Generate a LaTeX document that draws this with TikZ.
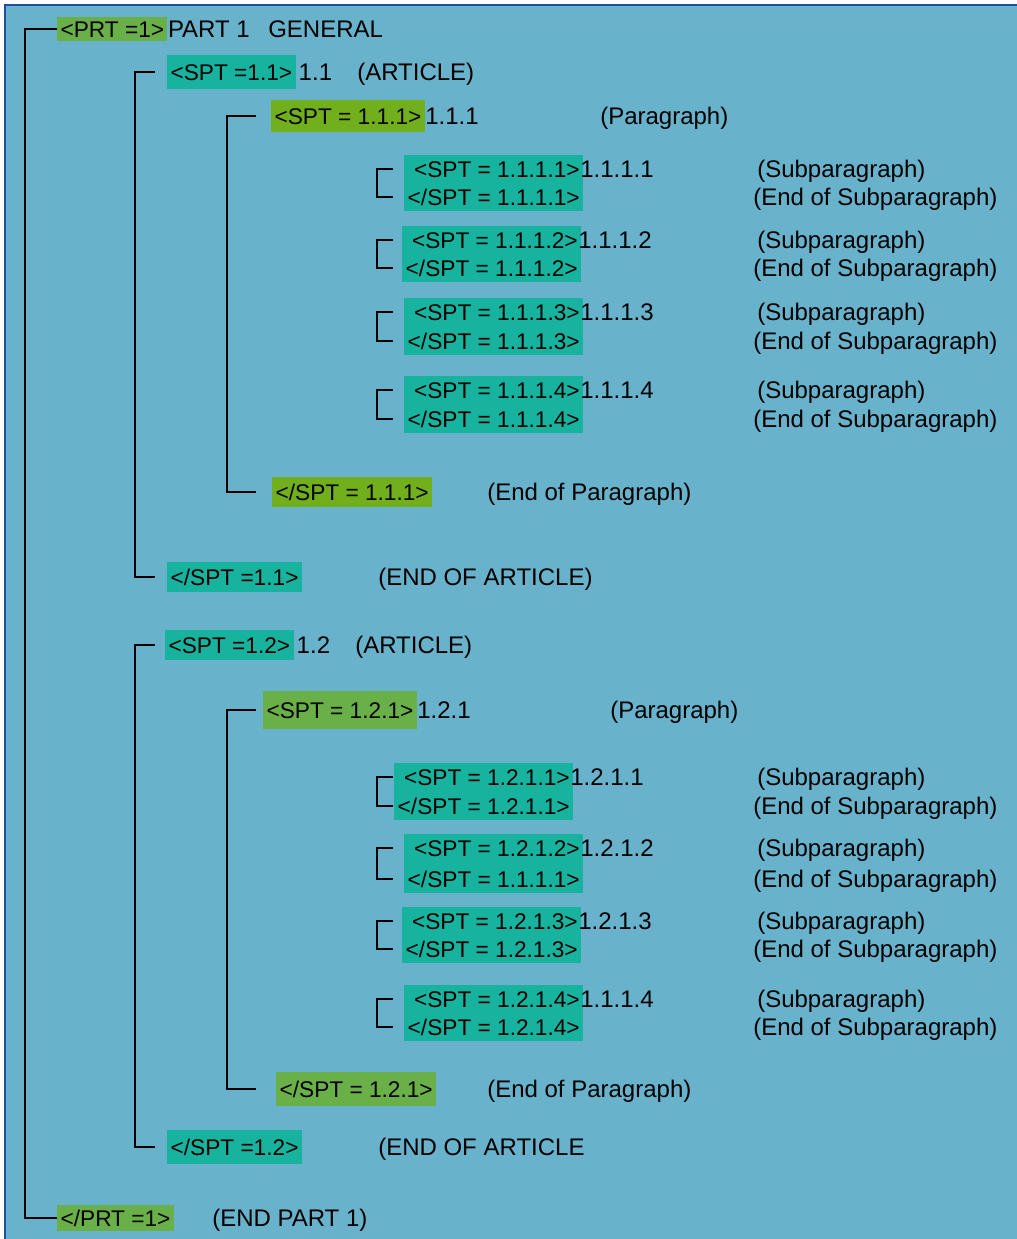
\documentclass[tikz,border=0pt]{standalone}
\usepackage{fontspec}
\setmainfont{Liberation Sans}
\definecolor{sky}{HTML}{68B2CB}
\definecolor{frame}{HTML}{1F4E9A}
\definecolor{tealtag}{HTML}{17B39E}
\definecolor{greentag}{HTML}{6AB048}
\definecolor{limetag}{HTML}{71AF1C}
\usetikzlibrary{calc, positioning, fit, backgrounds}

\begin{document}
\begin{tikzpicture}[
  x=0.75pt, y=-0.75pt,
  tag/.style={fill=#1, font=\fontsize{17}{20}\selectfont, text height=14pt, text depth=2pt, inner xsep=2.5pt, inner ysep=3pt, anchor=base west},
  tagline/.style={font=\fontsize{17}{20}\selectfont, text height=14pt, text depth=2pt, inner sep=0pt, anchor=base east},
  txt/.style={font=\fontsize{18}{21}\selectfont, inner sep=0pt, anchor=base west},
  subbox/.style={fill=tealtag, inner xsep=2.5pt, inner ysep=2.25pt},
  bracket/.style={line width=1.5pt},
]
% Background
\begin{scope}[on background layer]
  \fill[white] (0,0) rectangle (1017,1239);
  \fill[sky] (5,5) rectangle (1017,1239);
\end{scope}
\useasboundingbox (0,0) rectangle (1017,1239);
\draw[frame, line width=2pt] (5,1239) -- (5,5) -- (1017,5);

% Bracket columns
\coordinate (v0) at (25,0);
\coordinate (v1) at (135,0);
\coordinate (t1) at (155,0);
\coordinate (v2) at (227,0);
\coordinate (t2) at (256,0);
\coordinate (v3) at (377,0);
\coordinate (t3) at (393,0);

% Part 1
\node[tag=greentag, inner ysep=1pt] (p1o) at (57,37) {<PRT =1>};
\node[txt] (p1t) at (p1o.base east) {PART 1};
\node[txt] (p1g) at (268,37) {GENERAL};

% Article 1.1
\node[tag=tealtag, inner ysep=4.5pt] (s11o) at (167,80) {<SPT =1.1>};
\node[txt, xshift=2pt] (s11n) at (s11o.base east) {1.1};
\node[txt] (s11t) at (357,80) {(ARTICLE)};

% Paragraph 1.1.1
\node[tag=limetag, inner ysep=4pt] (s111o) at (271,124) {<SPT = 1.1.1>};
\node[txt] (s111n) at (s111o.base east) {1.1.1};
\node[txt] (s111t) at (600,124) {(Paragraph)};
\node[tag=limetag] (s111c) at (272,500) {</SPT = 1.1.1>};
\node[txt] (s111e) at (487,500) {(End of Paragraph)};

\node[tag=tealtag] (s11c) at (167,585) {</SPT =1.1>};
\node[txt] (s11e) at (378,585) {(END OF ARTICLE)};

% Article 1.2
\node[tag=tealtag] (s12o) at (165,653) {<SPT =1.2>};
\node[txt, xshift=2pt] (s12n) at (s12o.base east) {1.2};
\node[txt] (s12t) at (355,653) {(ARTICLE)};

% Paragraph 1.2.1
\node[tag=greentag, inner ysep=6pt] (s121o) at (263,718) {<SPT = 1.2.1>};
\node[txt] (s121n) at (s121o.base east) {1.2.1};
\node[txt] (s121t) at (610,718) {(Paragraph)};
\node[tag=greentag, inner ysep=5pt] (s121c) at (276,1097) {</SPT = 1.2.1>};
\node[txt] (s121e) at (487,1097) {(End of Paragraph)};

\node[tag=tealtag, inner ysep=4.5pt] (s12c) at (167,1155) {</SPT =1.2>};
\node[txt] (s12e) at (378,1155) {(END OF ARTICLE};

\node[tag=greentag, inner ysep=1.75pt] (p1c) at (57,1226) {</PRT =1>};
\node[txt] (p1e) at (212,1226) {(END PART 1)};

% Subparagraphs
\foreach \id/\ov/\nv/\cv/\r/\ya/\yb in {
  1111/1.1.1.1/1.1.1.1/1.1.1.1/580/169/197,
  1112/1.1.1.2/1.1.1.2/1.1.1.2/578/240/268,
  1113/1.1.1.3/1.1.1.3/1.1.1.3/580/312/341,
  1114/1.1.1.4/1.1.1.4/1.1.1.4/580/390/419,
  1211/1.2.1.1/1.2.1.1/1.2.1.1/570/777/806,
  1212/1.2.1.2/1.2.1.2/1.1.1.1/580/848/879,
  1213/1.2.1.3/1.2.1.3/1.2.1.3/578/921/949,
  1214/1.2.1.4/1.1.1.4/1.2.1.4/580/999/1027}{
  \node[tagline] (o\id) at (\r,\ya+8) {<SPT = \ov>};
  \node[txt] (n\id) at (o\id.base east) {\nv};
  \node[tagline] (c\id) at (\r,\yb+8) {</SPT = \cv>};
  \node[txt] (d\id) at (757,\ya+8) {(Subparagraph)};
  \node[txt] (e\id) at (753,\yb+8) {(End of Subparagraph)};
  \begin{scope}[on background layer]
    \node[subbox, fit=(o\id)(c\id)] (b\id) {};
  \end{scope}
  \draw[bracket] (o\id.west -| t3) -- (o\id.west -| v3) -- (c\id.west -| v3) -- (c\id.west -| t3);
}

% Brackets
\draw[bracket] (p1o.west) -- (p1o.west -| v0) -- (p1c.west -| v0) -- (p1c.west);
\draw[bracket] (s11o.west -| t1) -- (s11o.west -| v1) -- (s11c.west -| v1) -- (s11c.west -| t1);
\draw[bracket] (s12o.west -| t1) -- (s12o.west -| v1) -- (s12c.west -| v1) -- (s12c.west -| t1);
\draw[bracket] (s111o.west -| t2) -- (s111o.west -| v2) -- (s111c.west -| v2) -- (s111c.west -| t2);
\draw[bracket] (s121o.west -| t2) -- (s121o.west -| v2) -- (s121c.west -| v2) -- (s121c.west -| t2);
\end{tikzpicture}
\end{document}
